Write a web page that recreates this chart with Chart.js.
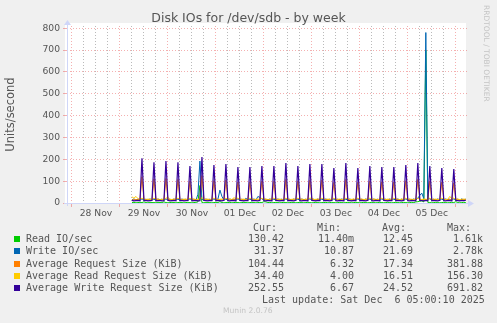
<!DOCTYPE html>
<html>
<head>
<meta charset="utf-8">
<script src="https://cdn.jsdelivr.net/npm/chart.js@4/dist/chart.umd.min.js"></script>
<style>
  html, body { margin: 0; padding: 0; background: #f0f0f0; }
  #wrap { position: relative; width: 497px; height: 323px; overflow: hidden; font-family: "DejaVu Sans", sans-serif; color: #666; }
  #chart { position: absolute; left: 0; top: 0; }
  .t { position: absolute; white-space: pre; }
  #title { left: 0; width: 497px; top: 10px; text-align: center; font-size: 12.5px; line-height: 15px; color: #555; }
  #rrd { left: 482px; top: 5px; writing-mode: vertical-rl; font-size: 7.5px; color: #c4c4c4; }
  #munin { left: 223px; top: 306px; font-size: 7.6px; color: #c4c4c4; }
  .mono { font-family: "DejaVu Sans Mono", monospace; font-size: 10px; line-height: 12px; color: #555; }
  .sw { position: absolute; width: 6px; height: 6px; }
</style>
</head>
<body>
<div id="wrap">
  <canvas id="chart" width="497" height="323"></canvas>
  <div class="t" id="title">Disk IOs for /dev/sdb - by week</div>
  <div class="t" id="rrd">RRDTOOL / TOBI OETIKER</div>
  <div class="t" id="munin">Munin 2.0.76</div>
  <div id="legend"></div>
</div>
<script>
// hours are counted from 28 Nov 00:00, first sample is 29 Nov 06:00
const firstHour = 30;
const dayLabels = ['28 Nov', '29 Nov', '30 Nov', '01 Dec', '02 Dec', '03 Dec', '04 Dec', '05 Dec'];
const yLabels = [0, 100, 200, 300, 400, 500, 600, 700, 800];

const readIO = [
  2, 3, 1, 2, 3, 2, 5, 2, 1, 3, 2, 2, 1, 3, 2, 2, 5, 2, 1, 2, 3, 2, 1, 2,
  3, 2, 1, 2, 3, 2, 1, 2, 3, 5, 80, 2, 1, 3, 2, 2, 1, 2, 3, 2, 6, 2, 1, 2,
  2, 3, 1, 2, 3, 2, 1, 2, 3, 2, 1, 2, 3, 2, 1, 2, 3, 2, 6, 5, 2, 3, 1, 2,
  3, 2, 1, 2, 3, 2, 1, 2, 3, 2, 1, 2, 3, 2, 1, 2, 3, 2, 1, 2, 3, 2, 1, 2,
  2, 3, 1, 2, 3, 2, 1, 2, 3, 2, 1, 2, 3, 2, 1, 2, 3, 2, 1, 2, 3, 2, 1, 2,
  3, 2, 1, 2, 3, 2, 1, 2, 3, 2, 1, 2, 3, 2, 1, 2, 3, 2, 1, 2, 3, 2, 5, 6,
  8, 10, 5, 700, 3, 2, 1, 2, 3, 2, 1, 2, 3, 2, 1, 2, 3, 2, 6, 2, 1, 2, 3, 2
];
const writeIO = [
  14, 19, 13, 18, 12, 19, 13, 18, 12, 19, 14, 18, 12, 19, 13, 18, 12, 19, 13, 18, 12, 19, 13, 18,
  12, 19, 13, 18, 12, 19, 13, 18, 12, 40, 192, 18, 12, 19, 13, 18, 12, 19, 13, 18, 59, 30, 13, 18,
  12, 19, 13, 18, 12, 19, 13, 18, 12, 22, 13, 18, 12, 19, 13, 30, 25, 19, 13, 18, 12, 19, 13, 18,
  12, 19, 13, 18, 12, 19, 13, 18, 12, 19, 13, 18, 12, 19, 13, 18, 12, 19, 13, 18, 12, 19, 13, 18,
  12, 19, 13, 18, 12, 19, 13, 18, 12, 19, 13, 18, 12, 19, 13, 18, 12, 19, 13, 18, 12, 19, 13, 18,
  12, 19, 13, 18, 12, 19, 13, 18, 12, 19, 13, 18, 12, 19, 13, 18, 12, 19, 13, 18, 12, 19, 13, 22,
  35, 45, 20, 780, 20, 19, 13, 18, 12, 19, 13, 18, 12, 19, 13, 18, 12, 19, 13, 18, 12, 19, 13, 18
];
const avgReqSize = [
  15, 14, 16, 15, 14, 120, 15, 16, 14, 15, 16, 110, 14, 15, 16, 14, 15, 112, 16, 14, 15, 16, 14, 108,
  15, 16, 14, 15, 16, 100, 14, 15, 16, 14, 15, 125, 16, 15, 14, 16, 15, 102, 14, 16, 15, 14, 16, 105,
  15, 14, 16, 15, 14, 96, 16, 15, 14, 16, 15, 97, 14, 16, 15, 14, 16, 100, 15, 14, 16, 15, 14, 99,
  16, 15, 14, 16, 15, 108, 14, 16, 15, 14, 16, 100, 15, 14, 16, 15, 14, 104, 16, 15, 14, 16, 15, 105,
  14, 16, 15, 14, 16, 94, 15, 14, 16, 15, 14, 108, 16, 15, 14, 16, 15, 95, 14, 16, 15, 14, 16, 100,
  15, 14, 16, 15, 14, 97, 16, 15, 14, 16, 15, 96, 14, 16, 15, 14, 16, 102, 15, 14, 16, 15, 14, 108,
  16, 15, 14, 16, 15, 100, 14, 16, 15, 14, 16, 95, 15, 14, 16, 15, 14, 92, 16, 15, 14, 16, 15, 16
];
const avgReadReqSize = [
  28, 22, 30, 20, 17, 22, 17, 16, 18, 17, 16, 22, 17, 18, 16, 17, 17, 22, 25, 17, 16, 18, 17, 22,
  17, 16, 18, 17, 16, 22, 17, 18, 16, 17, 18, 24, 16, 17, 18, 16, 17, 22, 18, 16, 17, 18, 16, 22,
  17, 18, 16, 24, 20, 22, 16, 17, 18, 16, 17, 22, 18, 16, 17, 18, 16, 22, 17, 18, 16, 17, 18, 22,
  16, 17, 18, 16, 17, 22, 18, 16, 17, 18, 16, 22, 17, 18, 16, 17, 18, 22, 22, 16, 17, 18, 16, 22,
  17, 16, 18, 17, 16, 22, 16, 17, 18, 16, 17, 22, 18, 16, 17, 18, 16, 22, 17, 18, 16, 17, 18, 22,
  16, 18, 17, 16, 18, 22, 17, 16, 18, 17, 16, 22, 18, 17, 16, 18, 17, 22, 16, 18, 17, 16, 18, 22,
  17, 16, 18, 17, 16, 22, 16, 17, 18, 16, 17, 22, 18, 16, 17, 30, 20, 22, 17, 18, 16, 17, 18, 17
];
const avgWriteReqSize = [
  12, 10, 11, 12, 10, 205, 11, 12, 10, 11, 12, 186, 10, 11, 12, 10, 11, 192, 12, 10, 11, 12, 10, 186,
  11, 12, 10, 11, 12, 169, 10, 11, 12, 10, 11, 210, 12, 11, 10, 12, 11, 174, 10, 12, 11, 10, 12, 178,
  11, 10, 12, 11, 10, 165, 12, 11, 10, 12, 11, 165, 10, 12, 11, 10, 12, 169, 11, 10, 12, 11, 10, 169,
  12, 11, 10, 12, 11, 183, 10, 12, 11, 10, 12, 169, 11, 10, 12, 11, 10, 178, 12, 11, 10, 12, 11, 178,
  10, 12, 11, 10, 12, 160, 11, 10, 12, 11, 10, 183, 12, 11, 10, 12, 11, 160, 10, 12, 11, 10, 12, 169,
  11, 10, 12, 11, 10, 165, 12, 11, 10, 12, 11, 165, 10, 12, 11, 10, 12, 174, 11, 10, 12, 11, 10, 183,
  12, 11, 10, 12, 11, 169, 10, 12, 11, 10, 12, 160, 11, 10, 12, 11, 10, 155, 12, 11, 10, 12, 11, 12
];

const names = ['Read IO/sec', 'Write IO/sec', 'Average Request Size (KiB)', 'Average Read Request Size (KiB)', 'Average Write Request Size (KiB)'];
const colors = ['#00cc00', '#0066b3', '#ff8000', '#ffcc00', '#330099'];
const curVals = ['130.42', '31.37', '104.44', '34.40', '252.55'];
const minVals = ['11.40m', '10.87', '6.32', '4.00', '6.67'];
const avgVals = ['12.45', '21.69', '17.34', '16.51', '24.52'];
const maxVals = ['1.61k', '2.78k', '381.88', '156.30', '691.82'];
const lastUpdate = 'Last update: Sat Dec  6 05:00:10 2025';

const series = [readIO, writeIO, avgReqSize, avgReadReqSize, avgWriteReqSize];

const majorGrid = 'rgba(230, 80, 80, 0.45)';
const minorGrid = 'rgba(130, 130, 130, 0.55)';
const axisColor = '#cfd6f8';
const tickFont = { family: 'DejaVu Sans', size: 9.2 };

const toPoints = arr => arr.map((v, i) => ({ x: firstHour + i, y: v }));

const xTickHours = [];
for (let h = 0; h <= dayLabels.length * 24; h += 6) xTickHours.push(h);
const yTickVals = [];
yLabels.forEach((v, i) => {
  yTickVals.push(v);
  if (i < yLabels.length - 1) yTickVals.push(v + 50);
});

const frame = {
  id: 'frame',
  beforeDraw(chart) {
    const { ctx, chartArea: a } = chart;
    ctx.save();
    ctx.fillStyle = '#ffffff';
    ctx.fillRect(a.left - 2, a.top - 3, a.right - a.left + 1, a.bottom - a.top + 3);
    ctx.restore();
  },
  afterDraw(chart) {
    const { ctx, chartArea: a } = chart;
    ctx.save();
    ctx.strokeStyle = axisColor;
    ctx.fillStyle = axisColor;
    ctx.lineWidth = 1;
    ctx.beginPath();
    ctx.moveTo(a.left + 0.5, a.bottom + 3);
    ctx.lineTo(a.left + 0.5, a.top - 2);
    ctx.moveTo(a.left - 3, a.bottom + 0.5);
    ctx.lineTo(a.right + 2, a.bottom + 0.5);
    ctx.stroke();
    ctx.beginPath();
    ctx.moveTo(a.left - 3, a.top - 1);
    ctx.lineTo(a.left + 4, a.top - 1);
    ctx.lineTo(a.left + 0.5, a.top - 6);
    ctx.closePath();
    ctx.fill();
    ctx.beginPath();
    ctx.moveTo(a.right + 1, a.bottom - 3);
    ctx.lineTo(a.right + 1, a.bottom + 4);
    ctx.lineTo(a.right + 7, a.bottom + 0.5);
    ctx.closePath();
    ctx.fill();
    ctx.restore();
  }
};

new Chart(document.getElementById('chart'), {
  type: 'line',
  data: {
    datasets: series.map((arr, i) => ({
      label: names[i],
      data: toPoints(arr),
      borderColor: colors[i],
      backgroundColor: colors[i],
      borderWidth: i === 4 ? 1.2 : 1,
      pointRadius: 0,
      tension: 0,
      fill: false,
      order: series.length - i
    }))
  },
  options: {
    responsive: false,
    animation: false,
    events: [],
    layout: { padding: { top: 26, right: 30, bottom: 100, left: 0 } },
    plugins: { legend: { display: false }, tooltip: { enabled: false } },
    scales: {
      x: {
        type: 'linear',
        min: -2.5,
        max: 197.6,
        afterBuildTicks: s => { s.ticks = xTickHours.map(v => ({ value: v })); },
        afterFit: s => { s.height = 20; },
        ticks: {
          autoSkip: false,
          maxRotation: 0,
          padding: 1,
          color: '#555',
          font: tickFont,
          callback: v => (v % 24 === 12 ? dayLabels[(v - 12) / 24] : '')
        },
        grid: {
          color: c => (c.tick && c.tick.value % 24 === 0 ? majorGrid : minorGrid),
          tickLength: 4,
          tickColor: c => (c.tick && c.tick.value % 24 === 0 ? majorGrid : 'rgba(0,0,0,0)')
        },
        border: { display: false, dash: [1, 2] }
      },
      y: {
        min: 0,
        max: 810,
        afterBuildTicks: s => { s.ticks = yTickVals.map(v => ({ value: v })); },
        afterFit: s => { s.width = 67; },
        ticks: {
          padding: 3,
          color: '#555',
          font: tickFont,
          callback: v => (yLabels.includes(v) ? String(v) : '')
        },
        grid: {
          color: c => (c.tick && c.tick.value % 100 === 0 ? majorGrid : minorGrid),
          tickLength: 4,
          tickColor: c => (c.tick && c.tick.value % 100 === 0 ? majorGrid : minorGrid)
        },
        border: { display: false, dash: [1, 2] },
        title: {
          display: true,
          text: 'Units/second',
          color: '#555',
          font: { family: 'DejaVu Sans', size: 11.5 },
          padding: { top: 4, bottom: 0 }
        }
      }
    }
  },
  plugins: [frame]
});

// legend table below the plot
const legend = document.getElementById('legend');
function addText(cls, text, css) {
  const d = document.createElement('div');
  d.className = 't ' + cls;
  d.textContent = text;
  Object.assign(d.style, css);
  legend.appendChild(d);
}
const rowTop = 222;
addText('mono', 'Cur:', { left: '253px', top: rowTop + 'px' });
addText('mono', 'Min:', { left: '317px', top: rowTop + 'px' });
addText('mono', 'Avg:', { left: '382px', top: rowTop + 'px' });
addText('mono', 'Max:', { left: '447px', top: rowTop + 'px' });
names.forEach((n, i) => {
  const top = 233.3 + i * 12.1;
  const sw = document.createElement('div');
  sw.className = 'sw';
  sw.style.left = '14px';
  sw.style.top = (top + 3) + 'px';
  sw.style.background = colors[i];
  legend.appendChild(sw);
  addText('mono', n, { left: '26px', top: top + 'px' });
  addText('mono', curVals[i], { right: (497 - 284) + 'px', top: top + 'px' });
  addText('mono', minVals[i], { right: (497 - 354) + 'px', top: top + 'px' });
  addText('mono', avgVals[i], { right: (497 - 413) + 'px', top: top + 'px' });
  addText('mono', maxVals[i], { right: (497 - 483) + 'px', top: top + 'px' });
});
addText('mono', lastUpdate, { left: '262px', top: '293.5px' });
</script>
</body>
</html>
